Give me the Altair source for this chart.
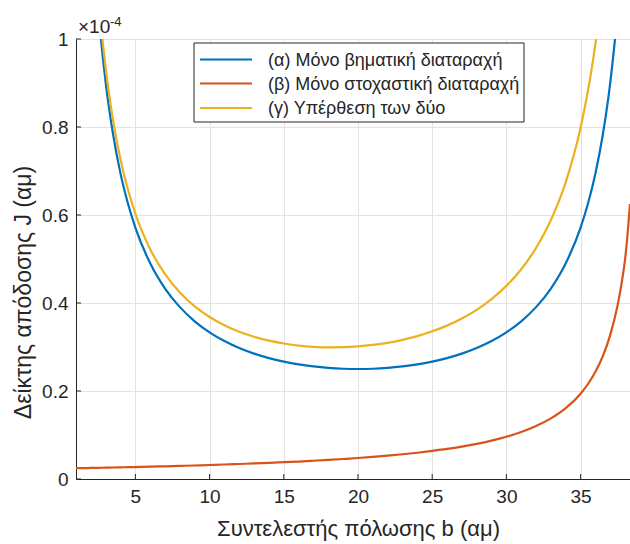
import altair as alt
import pandas as pd

# ---- data (values in units of 1e-4) ----
b_vals = [1, 1.5, 2, 2.5, 3, 3.5, 4, 4.5, 5,
          6, 7, 8, 9, 10, 11, 12, 13, 14, 15, 16, 17, 18, 19, 20,
          21, 22, 23, 24, 25, 26, 27, 28, 29, 30, 31, 32, 33, 34, 35,
          35.5, 36, 36.5, 37, 37.5, 37.75, 38, 38.15, 38.33]
J_step = [2.564, 1.732, 1.316, 1.067, 0.901, 0.783, 0.694, 0.626, 0.5714,
          0.4902, 0.4329, 0.3906, 0.3584, 0.3333, 0.3135, 0.2976, 0.2849, 0.2747,
          0.2667, 0.2604, 0.2558, 0.2525, 0.2506, 0.2500,
          0.2506, 0.2525, 0.2558, 0.2604, 0.2667, 0.2747, 0.2849, 0.2976, 0.3135,
          0.3333, 0.3584, 0.3906, 0.4329, 0.4902, 0.5714,
          0.626, 0.6944, 0.783, 0.9009, 1.067, 1.177, 1.316, 1.417, 1.562]
J_stoch = [0.0244, 0.0247, 0.0251, 0.0254, 0.0257, 0.0261, 0.0265, 0.0268, 0.0272,
           0.0280, 0.0289, 0.0298, 0.0307, 0.0318, 0.0329, 0.0341, 0.0353, 0.0367,
           0.0382, 0.0397, 0.0415, 0.0434, 0.0455, 0.0477,
           0.0503, 0.0531, 0.0562, 0.0597, 0.0638, 0.0683, 0.0736, 0.0798, 0.0872,
           0.0960, 0.1067, 0.1203, 0.1377, 0.1610, 0.1939,
           0.2159, 0.2436, 0.2794, 0.3276, 0.3958, 0.4419, 0.5000, 0.5500, 0.6250]
J_both = [2.607, 1.769, 1.351, 1.100, 0.934, 0.815, 0.726, 0.658, 0.6033,
          0.5223, 0.4656, 0.4239, 0.3924, 0.3683, 0.3495, 0.3347, 0.3232, 0.3144,
          0.3080, 0.3032, 0.3005, 0.2992, 0.2995, 0.3013,
          0.3047, 0.3095, 0.3163, 0.3248, 0.3356, 0.3486, 0.3648, 0.3845, 0.4089,
          0.4389, 0.4766, 0.5250, 0.5885, 0.6749, 0.7985,
          0.883, 0.989, 1.128, 1.318, 1.6, 1.75, 1.95, 2.1, 2.3]

labels = ["(α) Μόνο βηματική διαταραχή",
          "(β) Μόνο στοχαστική διαταραχή",
          "(γ) Υπέρθεση των δύο"]
colors = ["#0072BD", "#D95319", "#EDB120"]
x_ticks = [5, 10, 15, 20, 25, 30, 35]
y_ticks = [0, 0.2, 0.4, 0.6, 0.8, 1]

FONT = "Liberation Sans"
TXT = "#262626"
GRID = "#e3e3e3"

rows = []
for lab, series in zip(labels, [J_step, J_stoch, J_both]):
    for b, j in zip(b_vals, series):
        rows.append({"b": b, "J": j, "series": lab})
df = pd.DataFrame(rows)

xscale = alt.Scale(domain=[1, 38.33], nice=False, zero=False)
yscale = alt.Scale(domain=[0, 1], nice=False, zero=False)

x_axis = alt.Axis(values=x_ticks, title="Συντελεστής πόλωσης b (αμ)",
                  grid=True, gridColor=GRID, ticks=False,
                  domainColor=TXT, labelColor=TXT, labelFont=FONT,
                  labelFontSize=19, labelPadding=8, labelFlush=False,
                  titleFont=FONT, titleFontSize=22, titleFontWeight="normal",
                  titleColor=TXT, titleX=282, titleY=49,
                  titleBaseline="middle", titleAlign="center")
y_axis = alt.Axis(values=y_ticks, format="~g", title="Δείκτης απόδοσης J (αμ)",
                  grid=True, gridColor=GRID, ticks=False,
                  domainColor=TXT, labelColor=TXT, labelFont=FONT,
                  labelFontSize=19, labelPadding=8, labelFlush=False,
                  titleFont=FONT, titleFontSize=23, titleFontWeight="normal",
                  titleColor=TXT, titleX=-53, titleY=253, titleAngle=270,
                  titleBaseline="middle", titleAlign="center")

lines = alt.Chart(df).mark_line(clip=True, interpolate="monotone", strokeWidth=2.2).encode(
    x=alt.X("b:Q", scale=xscale, axis=x_axis),
    y=alt.Y("J:Q", scale=yscale, axis=y_axis),
    color=alt.Color("series:N", sort=labels,
                    scale=alt.Scale(domain=labels, range=colors), legend=None),
)

ytick_rules = alt.Chart(pd.DataFrame({"J": y_ticks})).mark_rule(color=TXT, strokeWidth=1).encode(
    y=alt.Y("J:Q", scale=yscale, axis=y_axis),
    x=alt.value(0), x2=alt.value(5),
)
xtick_rules = alt.Chart(pd.DataFrame({"b": x_ticks})).mark_rule(color=TXT, strokeWidth=1).encode(
    x=alt.X("b:Q", scale=xscale, axis=x_axis),
    y=alt.value(440), y2=alt.value(435),
)

exp_base = alt.Chart(pd.DataFrame({"t": ["×10"]})).mark_text(
    align="left", baseline="alphabetic", font=FONT, fontSize=19, color=TXT
).encode(x=alt.value(2), y=alt.value(-6), text="t:N")
exp_pow = alt.Chart(pd.DataFrame({"t": ["-4"]})).mark_text(
    align="left", baseline="alphabetic", font=FONT, fontSize=13, color=TXT
).encode(x=alt.value(34), y=alt.value(-13), text="t:N")

# ---- legend box (manual, MATLAB style) ----
legend_box = alt.Chart(pd.DataFrame({"k": [0]})).mark_rect(
    fill="white", stroke=TXT, strokeWidth=1
).encode(x=alt.value(118), x2=alt.value(448), y=alt.value(4), y2=alt.value(83))

legend_layers = [legend_box]
row_y = [20.5, 44.5, 69]
for lab, col, ry in zip(labels, colors, row_y):
    ldf = pd.DataFrame({"label": [lab]})
    legend_layers.append(
        alt.Chart(ldf).mark_rule(color=col, strokeWidth=2.2).encode(
            x=alt.value(124), x2=alt.value(176), y=alt.value(ry))
    )
    legend_layers.append(
        alt.Chart(ldf).mark_text(align="left", baseline="middle", font=FONT,
                                 fontSize=18, color=TXT).encode(
            x=alt.value(192), y=alt.value(ry + 1), text="label:N")
    )

chart = alt.layer(lines, ytick_rules, xtick_rules, exp_base, exp_pow,
                  *legend_layers).properties(
    width=554, height=440,
    autosize=alt.AutoSizeParams(type="none"),
    padding={"left": 76, "top": 39, "right": 0, "bottom": 65},
).configure_view(stroke=None).configure(background="white")

chart.save("out.html", embed_options={"renderer": "svg", "actions": False})
